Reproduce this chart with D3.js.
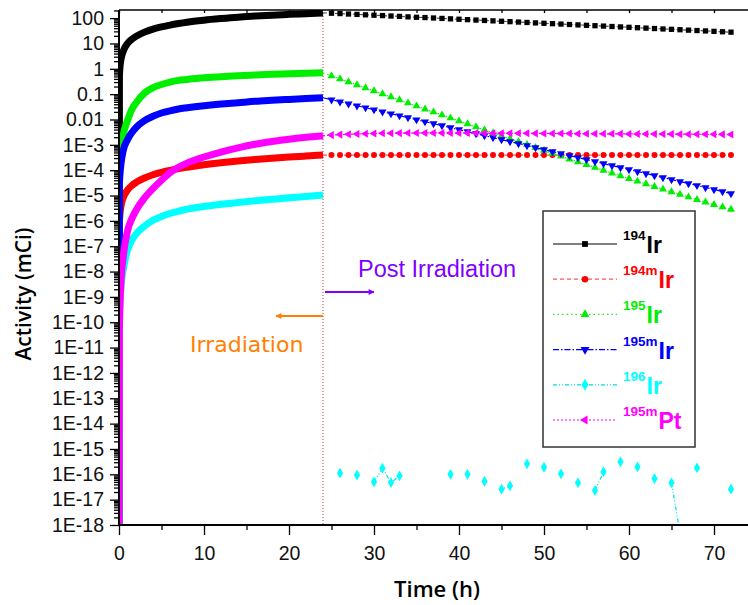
<!DOCTYPE html>
<html>
<head>
<meta charset="utf-8">
<title>Activity vs Time</title>
<script src="https://d3js.org/d3.v7.min.js"></script>
<style>
  body { margin: 0; background: #fff; }
  svg { display: block; font-family: "Liberation Sans", Arial, sans-serif; }
</style>
</head>
<body>
<script>
// irradiation phase (0 - 24 h), dense curves
const irrTime = [0, 0.05, 0.1, 0.25, 0.5, 1, 1.5, 2, 3, 4, 5, 6, 7, 8, 10, 12, 14, 16, 18, 20, 22, 24];
const irrIr194 = [1e-18, 0.5, 1.0, 2.5, 5.0, 10, 14.5, 19, 28, 37, 45, 53, 61, 69, 83, 96, 109, 120, 131, 141, 150, 159];
const irrIr194m = [1e-18, 8.2e-7, 1.64e-6, 4.1e-6, 8.2e-6, 1.64e-5, 2.46e-5, 3.28e-5, 4.9e-5, 6.6e-5, 8.2e-5, 9.8e-5, 1.15e-4, 1.31e-4, 1.64e-4, 1.97e-4, 2.3e-4, 2.63e-4, 2.95e-4, 3.28e-4, 3.61e-4, 3.94e-4];
const irrIr195 = [1e-18, 3e-5, 1.2e-4, 7e-4, 2.5e-3, 9e-3, 0.025, 0.045, 0.11, 0.18, 0.24, 0.30, 0.35, 0.38, 0.44, 0.49, 0.53, 0.57, 0.61, 0.64, 0.67, 0.70];
const irrIr195m = [1e-18, 3e-5, 6e-5, 2e-4, 6e-4, 1.6e-3, 3e-3, 4.8e-3, 9e-3, 0.0135, 0.018, 0.022, 0.026, 0.029, 0.035, 0.041, 0.046, 0.052, 0.057, 0.062, 0.067, 0.072];
const irrIr196 = [1e-18, 1e-10, 5e-10, 3e-9, 1.2e-8, 7e-8, 1.7e-7, 3e-7, 6.2e-7, 1.05e-6, 1.5e-6, 1.95e-6, 2.4e-6, 2.9e-6, 3.7e-6, 4.5e-6, 5.3e-6, 6.2e-6, 7.1e-6, 8.1e-6, 9.1e-6, 1.05e-5];
const irrPt195m = [1e-18, 5e-11, 3e-10, 5e-9, 4e-8, 4e-7, 1.2e-6, 2.6e-6, 8e-6, 1.9e-5, 4e-5, 8e-5, 1.3e-4, 1.9e-4, 3.3e-4, 5.2e-4, 7.6e-4, 1.05e-3, 1.35e-3, 1.67e-3, 1.98e-3, 2.28e-3];

// post irradiation (24 - 72 h), hourly
const postTime = [24, 25, 26, 27, 28, 29, 30, 31, 32, 33, 34, 35, 36, 37, 38, 39, 40, 41, 42, 43, 44, 45, 46, 47, 48,
  49, 50, 51, 52, 53, 54, 55, 56, 57, 58, 59, 60, 61, 62, 63, 64, 65, 66, 67, 68, 69, 70, 71, 72];
const postIr194 = [162, 156, 151, 145, 140, 135, 130, 126, 121, 117, 112, 108, 105, 101, 97.1, 93.6, 90.2, 87.0, 83.8, 80.8, 77.9, 75.1, 72.4, 69.8, 67.3,
  64.8, 62.5, 60.3, 58.1, 56.0, 54.0, 52.0, 50.2, 48.4, 46.6, 44.9, 43.3, 41.8, 40.3, 38.8, 37.4, 36.1, 34.8, 33.5, 32.3, 31.2, 30.0, 28.9, 27.9];
const postIr194m = [3.94e-4, 3.94e-4, 3.94e-4, 3.94e-4, 3.94e-4, 3.94e-4, 3.94e-4, 3.94e-4, 3.94e-4, 3.94e-4, 3.94e-4, 3.94e-4, 3.94e-4, 3.94e-4, 3.94e-4, 3.94e-4, 3.94e-4, 3.94e-4, 3.94e-4, 3.94e-4, 3.94e-4, 3.94e-4, 3.94e-4, 3.94e-4, 3.94e-4,
  3.94e-4, 3.94e-4, 3.94e-4, 3.94e-4, 3.94e-4, 3.94e-4, 3.94e-4, 3.94e-4, 3.94e-4, 3.94e-4, 3.94e-4, 3.94e-4, 3.94e-4, 3.94e-4, 3.94e-4, 3.94e-4, 3.94e-4, 3.94e-4, 3.94e-4, 3.94e-4, 3.94e-4, 3.94e-4, 3.94e-4, 3.94e-4];
const postIr195 = [0.697, 0.529, 0.402, 0.305, 0.232, 0.176, 0.134, 0.1015, 0.0772, 0.0587, 0.0446, 0.0339, 0.0258, 0.0197, 0.0150, 0.0114, 8.70e-3, 6.63e-3, 5.06e-3, 3.87e-3, 2.96e-3, 2.26e-3, 1.73e-3, 1.33e-3, 1.02e-3,
  7.80e-4, 5.99e-4, 4.61e-4, 3.55e-4, 2.74e-4, 2.12e-4, 1.64e-4, 1.27e-4, 9.85e-5, 7.66e-5, 5.96e-5, 4.66e-5, 3.64e-5, 2.85e-5, 2.24e-5, 1.76e-5, 1.39e-5, 1.10e-5, 8.72e-6, 6.93e-6, 5.51e-6, 4.39e-6, 3.51e-6, 2.82e-6];
const postIr195m = [7.19e-2, 6.00e-2, 5.01e-2, 4.18e-2, 3.48e-2, 2.91e-2, 2.43e-2, 2.02e-2, 1.69e-2, 1.41e-2, 1.18e-2, 9.81e-3, 8.18e-3, 6.83e-3, 5.70e-3, 4.75e-3, 3.96e-3, 3.31e-3, 2.76e-3, 2.30e-3, 1.92e-3, 1.60e-3, 1.34e-3, 1.12e-3, 9.31e-4,
  7.77e-4, 6.48e-4, 5.41e-4, 4.51e-4, 3.76e-4, 3.14e-4, 2.62e-4, 2.19e-4, 1.82e-4, 1.52e-4, 1.27e-4, 1.06e-4, 8.84e-5, 7.37e-5, 6.15e-5, 5.13e-5, 4.28e-5, 3.57e-5, 2.98e-5, 2.49e-5, 2.07e-5, 1.73e-5, 1.44e-5, 1.20e-5];
const postIr196 = [null, null, 1.12e-16, null, 9.3e-17, null, 5.0e-17, 1.74e-16, 4.7e-17, 8.7e-17, null, null, null, null, null, 1.0e-16, null, 1.0e-16, null, 5.3e-17, null, 2.6e-17, 3.5e-17, null, 2.6e-16,
  null, 1.9e-16, null, 1.05e-16, null, 4.6e-17, null, 2.3e-17, 1.26e-16, null, 3.1e-16, null, 1.95e-16, null, 6.8e-17, null, 4.6e-17, 5e-19, null, 1.78e-16, null, null, null, 2.6e-17];
const postPt195m = [2.30e-3, 2.42e-3, 2.53e-3, 2.62e-3, 2.69e-3, 2.75e-3, 2.80e-3, 2.84e-3, 2.87e-3, 2.90e-3, 2.92e-3, 2.94e-3, 2.95e-3, 2.95e-3, 2.95e-3, 2.94e-3, 2.93e-3, 2.92e-3, 2.91e-3, 2.90e-3, 2.89e-3, 2.88e-3, 2.86e-3, 2.85e-3, 2.84e-3,
  2.83e-3, 2.81e-3, 2.80e-3, 2.79e-3, 2.78e-3, 2.76e-3, 2.75e-3, 2.74e-3, 2.73e-3, 2.72e-3, 2.71e-3, 2.70e-3, 2.69e-3, 2.68e-3, 2.67e-3, 2.66e-3, 2.65e-3, 2.64e-3, 2.63e-3, 2.62e-3, 2.61e-3, 2.60e-3, 2.59e-3, 2.58e-3];

const xMajor = [0, 10, 20, 30, 40, 50, 60, 70];
const xMinor = [5, 15, 25, 35, 45, 55, 65];
const yLabels = ["1E-18", "1E-17", "1E-16", "1E-15", "1E-14", "1E-13", "1E-12", "1E-11", "1E-10", "1E-9", "1E-8", "1E-7", "1E-6",
  "1E-5", "1E-4", "1E-3", "0.01", "0.1", "1", "10", "100"];

const series = [
  { mass: "194", name: "Ir", color: "#000000", irr: irrIr194, post: postIr194, sym: "square", line: "#555555", dash: "4,2" },
  { mass: "194m", name: "Ir", color: "#ff0000", irr: irrIr194m, post: postIr194m, sym: "circle", line: "#ff5555", dash: "4,3" },
  { mass: "195", name: "Ir", color: "#00ee00", irr: irrIr195, post: postIr195, sym: "up", line: "#33dd33", dash: "1.5,3" },
  { mass: "195m", name: "Ir", color: "#0000ff", irr: irrIr195m, post: postIr195m, sym: "down", line: "#0000ff", dash: "6,2,1.5,2" },
  { mass: "196", name: "Ir", color: "#00ffff", irr: irrIr196, post: postIr196, sym: "diamond", line: "#00dddd", dash: "4,2,1,2,1,2" },
  { mass: "195m", name: "Pt", color: "#ff00ff", irr: irrPt195m, post: postPt195m, sym: "left", line: "#ff00ff", dash: "2,2" }
];

const W = 748, H = 605;
const pLeft = 119, pRight = 748, pTop = 10, pBottom = 525;

const svg = d3.select("body").append("svg").attr("width", W).attr("height", H);

const x = d3.scaleLinear().domain([0, 74]).range([pLeft, pRight]);
const y = d3.scaleLog().domain([1e-18, Math.pow(10, 2.32)]).range([pBottom, pTop]);

svg.append("clipPath").attr("id", "plot")
  .append("rect").attr("x", pLeft).attr("y", pTop).attr("width", pRight - pLeft).attr("height", pBottom - pTop);

const plot = svg.append("g").attr("clip-path", "url(#plot)");

// irradiation end marker
plot.append("line")
  .attr("x1", x(24)).attr("x2", x(24)).attr("y1", pTop).attr("y2", pBottom)
  .attr("stroke", "#cc3333").attr("stroke-width", 1).attr("stroke-dasharray", "1,2");

function symbolPath(kind, size) {
  if (kind === "square") return d3.symbol(d3.symbolSquare, size)();
  if (kind === "circle") return d3.symbol(d3.symbolCircle, size)();
  if (kind === "diamond") return d3.symbol(d3.symbolDiamond, size * 1.2)();
  return d3.symbol(d3.symbolTriangle, size)();
}
function symbolRotate(kind) {
  if (kind === "down") return 180;
  if (kind === "left") return -90;
  return 0;
}

const irrLine = d3.line()
  .x((d, i) => x(irrTime[i]))
  .y(d => y(d))
  .curve(d3.curveMonotoneX);

const postLine = d3.line()
  .defined(d => d != null)
  .x((d, i) => x(postTime[i]))
  .y(d => y(d));

series.forEach(s => {
  plot.append("path")
    .attr("d", irrLine(s.irr))
    .attr("fill", "none")
    .attr("stroke", s.color)
    .attr("stroke-width", 7)
    .attr("stroke-linejoin", "round");
});

series.forEach(s => {
  plot.append("path")
    .attr("d", postLine(s.post))
    .attr("fill", "none")
    .attr("stroke", s.line)
    .attr("stroke-width", 1.2)
    .attr("stroke-dasharray", s.dash);

  plot.selectAll(null)
    .data(s.post.map((v, i) => ({ t: postTime[i], v: v })).filter(d => d.v != null && d.t > 24))
    .enter().append("path")
    .attr("d", symbolPath(s.sym, 28))
    .attr("transform", d => `translate(${x(d.t)},${y(d.v)}) rotate(${symbolRotate(s.sym)})`)
    .attr("fill", s.color);
});

// axes
const majorY = d3.range(-18, 3).map(e => Math.pow(10, e));
const minorY = [];
for (let e = -18; e <= 2; e++) {
  for (let k = 2; k <= 9; k++) {
    const v = k * Math.pow(10, e);
    if (v <= y.domain()[1]) minorY.push(v);
  }
}

svg.append("g")
  .attr("transform", `translate(${pLeft},0)`)
  .call(d3.axisLeft(y).tickValues(minorY).tickSize(5).tickFormat(""))
  .call(g => g.select(".domain").remove());

const yAxis = svg.append("g")
  .attr("transform", `translate(${pLeft},0)`)
  .call(d3.axisLeft(y).tickValues(majorY).tickSize(9).tickPadding(6)
    .tickFormat((d, i) => yLabels[i]));
yAxis.select(".domain").attr("stroke-width", 2).attr("d", `M0,${pBottom}V${pTop}`);

svg.append("g")
  .attr("transform", `translate(0,${pBottom})`)
  .call(d3.axisBottom(x).tickValues(xMinor).tickSize(5).tickFormat(""))
  .call(g => g.select(".domain").remove());

const xAxis = svg.append("g")
  .attr("transform", `translate(0,${pBottom})`)
  .call(d3.axisBottom(x).tickValues(xMajor).tickSize(10).tickPadding(11));
xAxis.select(".domain").attr("stroke-width", 2).attr("d", `M${pLeft},0H${pRight}`);

// top frame
const topAxis = svg.append("g")
  .attr("transform", `translate(0,${pTop})`)
  .call(d3.axisTop(x).tickValues(xMajor.concat(xMinor)).tickSize(-3).tickFormat(""));
topAxis.select(".domain").attr("stroke-width", 1.5).attr("d", `M${pLeft},0H${pRight}`);

svg.selectAll(".tick line").attr("stroke", "#000").attr("stroke-width", 1.3);
svg.selectAll(".tick text")
  .attr("font-family", "'Liberation Sans', Arial, sans-serif")
  .attr("font-size", 19.5)
  .attr("fill", "#111");

// axis titles
svg.append("text")
  .attr("transform", "translate(31,294) rotate(-90)")
  .attr("text-anchor", "middle")
  .attr("font-family", "'Open Sans', sans-serif")
  .attr("font-weight", 600)
  .attr("font-size", 21)
  .text("Activity (mCi)");

svg.append("text")
  .attr("x", 437).attr("y", 597)
  .attr("text-anchor", "middle")
  .attr("font-family", "'Open Sans', sans-serif")
  .attr("font-weight", 600)
  .attr("font-size", 22)
  .text("Time (h)");

// annotations
const defs = svg.append("defs");
[["arrPurple", "#8000ff"], ["arrOrange", "#ff8000"]].forEach(([id, c]) => {
  defs.append("marker").attr("id", id)
    .attr("viewBox", "0 0 10 10").attr("refX", 9).attr("refY", 5)
    .attr("markerWidth", 9).attr("markerHeight", 6).attr("orient", "auto")
    .attr("markerUnits", "userSpaceOnUse")
    .append("path").attr("d", "M0,0L10,5L0,10Z").attr("fill", c);
});

svg.append("line")
  .attr("x1", x(24) + 2).attr("x2", x(24) + 51).attr("y1", 292).attr("y2", 292)
  .attr("stroke", "#8000ff").attr("stroke-width", 2).attr("marker-end", "url(#arrPurple)");
svg.append("line")
  .attr("x1", x(24)).attr("x2", x(24) - 47).attr("y1", 316).attr("y2", 316)
  .attr("stroke", "#ff8000").attr("stroke-width", 2).attr("marker-end", "url(#arrOrange)");

svg.append("text")
  .attr("x", 358).attr("y", 277)
  .attr("font-family", "'Liberation Sans', Arial, sans-serif")
  .attr("font-size", 23.5)
  .attr("fill", "#8000ff")
  .text("Post Irradiation");

svg.append("text")
  .attr("x", 190).attr("y", 352)
  .attr("font-family", "'DejaVu Sans', sans-serif")
  .attr("font-size", 22)
  .attr("fill", "#ff8000")
  .text("Irradiation");

// legend
const legend = svg.append("g");
legend.append("rect")
  .attr("x", 543).attr("y", 211).attr("width", 152).attr("height", 236)
  .attr("fill", "#fff").attr("stroke", "#333").attr("stroke-width", 1.5);

series.forEach((s, i) => {
  const ry = 244 + i * 35.2;
  legend.append("line")
    .attr("x1", 553).attr("x2", 617).attr("y1", ry).attr("y2", ry)
    .attr("stroke", s.line).attr("stroke-width", i === 0 ? 1.5 : 1.2)
    .attr("stroke-dasharray", i === 0 ? null : s.dash);
  legend.append("path")
    .attr("d", symbolPath(s.sym, 34))
    .attr("transform", `translate(585,${ry}) rotate(${symbolRotate(s.sym)})`)
    .attr("fill", s.color);
  const t = legend.append("text")
    .attr("x", 623).attr("y", ry - 4)
    .attr("font-family", "'Liberation Sans', Arial, sans-serif")
    .attr("font-weight", "bold")
    .attr("fill", s.color);
  t.append("tspan").attr("font-size", 13.5).text(s.mass);
  t.append("tspan").attr("font-size", 23).attr("dy", 13).attr("dx", 1).text(s.name);
});
</script>
</body>
</html>
